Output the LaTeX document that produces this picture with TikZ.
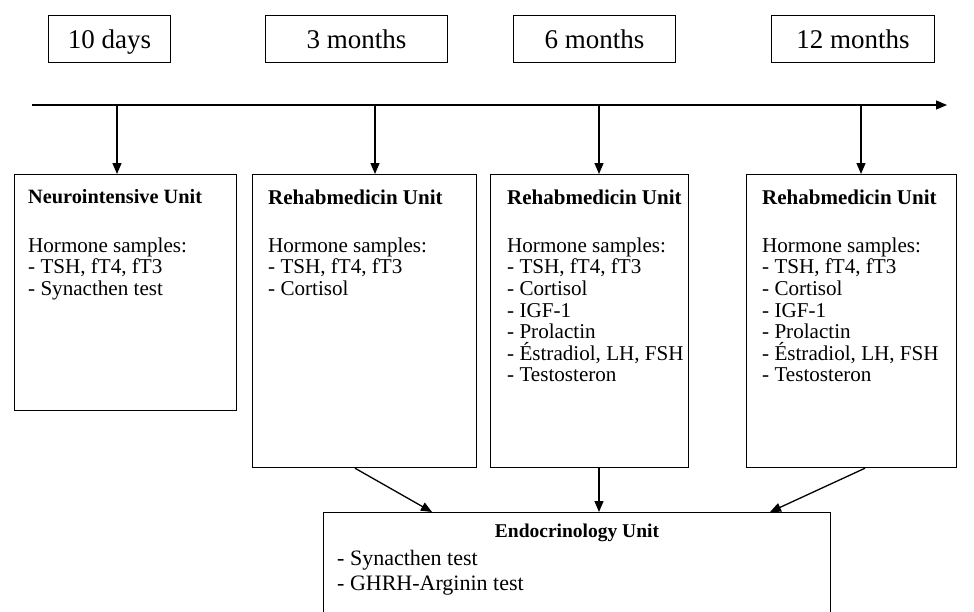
\documentclass[tikz,border=0pt]{standalone}
\usepackage{fontspec}
\setmainfont{Liberation Serif}
\usetikzlibrary{arrows.meta}
\begin{document}
\begin{tikzpicture}[x=1pt,y=-1pt,
  frame/.style={draw,line width=1.2pt,inner sep=0pt,anchor=north west},
  lbl/.style={font=\fontsize{27}{30}\selectfont,anchor=base,inner sep=0pt},
  head/.style={font=\fontsize{21}{25}\selectfont\bfseries,anchor=west,inner sep=0pt},
  headsm/.style={font=\fontsize{20.3}{25}\selectfont\bfseries,anchor=west,inner sep=0pt},
  body/.style={font=\fontsize{21.1}{21.6}\selectfont,align=left,anchor=north west,inner sep=0pt},
  ebody/.style={font=\fontsize{22}{25}\selectfont,align=left,anchor=north west,inner sep=0pt},
  arr/.style={line width=1.3pt,-{Triangle[width=9pt,length=11pt]}}]
\useasboundingbox (0,0) rectangle (974,611);
\begin{scope}
\clip (0,0) rectangle (974,611);
% top labels
\node[frame,minimum width=122,minimum height=47] (d10) at (48,15) {};
\node[lbl] at ([yshift=-9]d10.center) {10 days};
\node[frame,minimum width=182,minimum height=47] (m3) at (265,15) {};
\node[lbl] at ([yshift=-9]m3.center) {3 months};
\node[frame,minimum width=162,minimum height=47] (m6) at (513,15) {};
\node[lbl] at ([yshift=-9]m6.center) {6 months};
\node[frame,minimum width=163,minimum height=47] (m12) at (771,15) {};
\node[lbl] at ([yshift=-9]m12.center) {12 months};
% timeline
\coordinate (t0) at (32,105);
\coordinate (t1) at (947,105);
\draw[arr] (t0) -- (t1);
\coordinate (p1) at (117,105);
\coordinate (p2) at (375,105);
\coordinate (p3) at (599,105);
\coordinate (p4) at (861,105);
% unit boxes
\node[frame,minimum width=222,minimum height=236] (b1) at (14,174) {};
\node[frame,minimum width=224,minimum height=293] (b2) at (252,174) {};
\node[frame,minimum width=198,minimum height=293] (b3) at (490,174) {};
\node[frame,minimum width=210,minimum height=293] (b4) at (746,174) {};
\node[frame,minimum width=507,minimum height=120] (en) at (323,512) {};
% arrows from timeline
\draw[arr] (p1) -- (p1 |- b1.north);
\draw[arr] (p2) -- (p2 |- b2.north);
\draw[arr] (p3) -- (p3 |- b3.north);
\draw[arr] (p4) -- (p4 |- b4.north);
% texts
\node[headsm] (h1) at (28,197) {Neurointensive Unit};
\node[body] (x1) at (28,237.5) {Hormone samples:\\- TSH, fT4, fT3\\- Synacthen test};
\node[head] (h2) at (268,197) {Rehabmedicin Unit};
\node[body] (x2) at (268,237.5) {Hormone samples:\\- TSH, fT4, fT3\\- Cortisol};
\node[head] (h3) at (507,197) {Rehabmedicin Unit};
\node[body] (x3) at (507,237.5) {Hormone samples:\\- TSH, fT4, fT3\\- Cortisol\\- IGF-1\\- Prolactin\\- Éstradiol, LH, FSH\\- Testosteron};
\node[head] (h4) at (762,197) {Rehabmedicin Unit};
\node[body] (x4) at (762,237.5) {Hormone samples:\\- TSH, fT4, fT3\\- Cortisol\\- IGF-1\\- Prolactin\\- Éstradiol, LH, FSH\\- Testosteron};
\node[head,font=\fontsize{19.5}{25}\selectfont\bfseries,anchor=center] (he) at (577,533) {Endocrinology Unit};
\node[ebody] (xe) at (337,550.5) {- Synacthen test\\- GHRH-Arginin test};
% arrows to endocrinology
\coordinate (s2) at (355,467);
\coordinate (e2) at (432,512);
\coordinate (e4) at (770,512);
\coordinate (s4) at (865,467);
\draw[arr] (s2 |- b2.south) -- (e2 |- en.north);
\draw[arr] (p3 |- b3.south) -- (p3 |- en.north);
\draw[arr] (s4 |- b4.south) -- (e4 |- en.north);
\end{scope}
\end{tikzpicture}
\end{document}
